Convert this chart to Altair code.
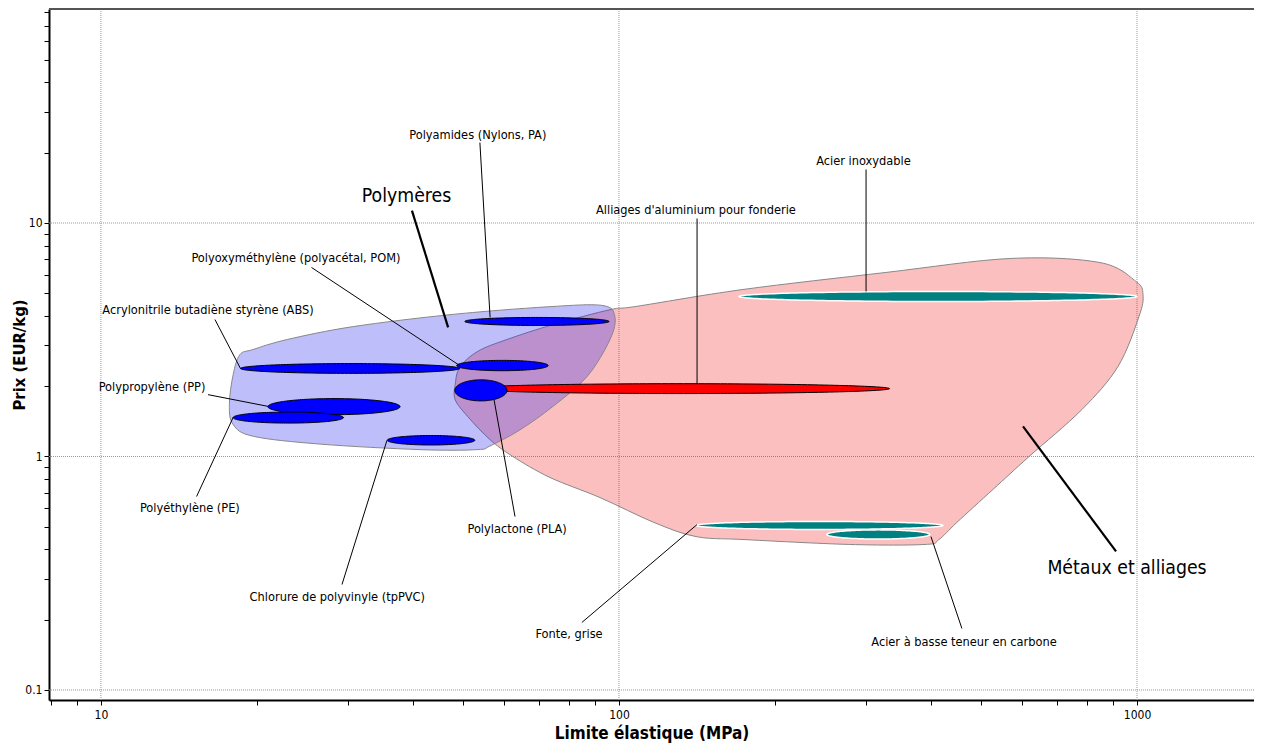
import altair as alt
import numpy as np
import pandas as pd

FONT = "DejaVu Sans Condensed"

# ---------------- data ----------------
# material bubbles: ranges of yield strength (MPa) and price (EUR/kg)
mat_names = ["00 PA", "01 ABS", "02 POM", "03 PP", "04 PE", "05 PVC",
             "06 Al", "07 PLA", "08 Inox", "09 Fonte", "10 Acier C"]
mat_group = ["poly", "poly", "poly", "poly", "poly", "poly",
             "alu", "pla", "acier", "acier", "acier"]
x_lo = [50.4, 18.6, 48.6, 21.0, 18.0, 35.7, 51.6, 48.2, 170.5, 140.8, 252.0]
x_hi = [95.7, 49.3, 73.0, 37.8, 29.4, 52.7, 333.0, 60.8, 1000.0, 422.0, 398.0]
y_lo = [3.64, 2.27, 2.33, 1.51, 1.39, 1.12, 1.86, 1.73, 4.61, 0.487, 0.443]
y_hi = [3.94, 2.50, 2.58, 1.77, 1.55, 1.23, 2.05, 2.13, 5.09, 0.527, 0.485]

# family envelopes (outline vertices)
poly_env_x = [18.55, 19.65, 22.9, 30.7, 47.8, 74.6, 93.1, 98.2, 96.1, 86.8, 74.6,
              64.4, 56.4, 53.2, 41.3, 26.5, 19.7, 18.0, 17.7, 18.0]
poly_env_y = [2.73, 2.87, 3.17, 3.60, 4.06, 4.39, 4.43, 3.98, 3.17, 2.20, 1.64,
              1.30, 1.11, 1.07, 1.07, 1.13, 1.22, 1.37, 1.67, 2.24]
metal_env_x = [48.3, 49.3, 53.4, 60.8, 74.6, 96.5, 107.8, 173.5, 327.6, 571.0, 848.0,
               995.0, 1027.0, 1009.0, 919.0, 783.0, 619.0, 527.0, 449.0, 414.6, 389.7,
               279.0, 173.5, 140.8, 116.8, 91.9, 73.6, 62.4, 56.4, 51.1, 48.3]
metal_env_y = [2.03, 2.41, 2.82, 3.17, 3.67, 4.26, 4.39, 5.19, 6.14, 7.05, 6.77,
               5.62, 4.94, 3.98, 2.43, 1.59, 1.0, 0.722, 0.522, 0.441, 0.42,
               0.42, 0.441, 0.454, 0.522, 0.667, 0.813, 1.0, 1.18, 1.48, 1.75]

# annotations
lab_text = ["Polyamides (Nylons, PA)", "Polyoxyméthylène (polyacétal, POM)",
            "Acrylonitrile butadiène styrène (ABS)", "Polypropylène (PP)",
            "Polyéthylène (PE)", "Chlorure de polyvinyle (tpPVC)", "Polylactone (PLA)",
            "Alliages d'aluminium pour fonderie", "Acier inoxydable", "Fonte, grise",
            "Acier à basse teneur en carbone"]
lab_x = [53.4, 23.8, 16.1, 12.55, 14.85, 28.6, 63.6, 140.8, 296.5, 80.1, 463.5]
lab_y = [23.9, 7.05, 4.22, 1.99, 0.599, 0.249, 0.491, 11.4, 18.5, 0.173, 0.1613]
lead_x1 = [53.9, 25.5, 16.6, 16.1, 15.3, 29.2, 63.0, 141.5, 299.9, 84.8, 459.2]
lead_y1 = [22.1, 6.45, 3.86, 1.84, 0.674, 0.283, 0.553, 10.45, 16.95, 0.1946, 0.1834]
lead_x2 = [56.4, 49.3, 18.6, 21.0, 18.0, 35.65, 57.4, 141.5, 299.9, 141.5, 400.2]
lead_y2 = [3.94, 2.45, 2.38, 1.64, 1.47, 1.17, 1.75, 2.05, 5.09, 0.511, 0.454]

big_text = ["Polymères", "Métaux et alliages"]
big_x = [38.9, 956.6]
big_y = [13.1, 0.3346]
big_x1 = [39.85, 911.0]
big_y1 = [11.3, 0.392]
big_x2 = [46.8, 602.5]
big_y2 = [3.57, 1.345]

x_grid = [10, 100, 1000]
y_grid = [0.1, 1, 10]
x_ticks = [8, 9, 10, 20, 30, 40, 50, 60, 70, 80, 90, 100, 200, 300, 400, 500, 600,
           700, 800, 900, 1000]
y_ticks = [0.1, 0.2, 0.3, 0.4, 0.5, 0.6, 0.7, 0.8, 0.9, 1, 2, 3, 4, 5, 6, 7, 8, 9,
           10, 20, 30, 40, 50, 60, 70, 80]

X_DOMAIN = [7.94, 1682]
Y_DOMAIN = [0.0906, 82.5]

# ---------------- build tables ----------------
theta = np.linspace(np.pi, 0, 90)
rows = []
for n, g, a0, a1, b0, b1 in zip(mat_names, mat_group, x_lo, x_hi, y_lo, y_hi):
    cx = (np.log10(a0) + np.log10(a1)) / 2
    ax = (np.log10(a1) - np.log10(a0)) / 2
    cy = (np.log10(b0) + np.log10(b1)) / 2
    ay = (np.log10(b1) - np.log10(b0)) / 2
    for t in theta:
        rows.append({"name": n, "group": g,
                     "x": 10 ** (cx + ax * np.cos(t)),
                     "yt": 10 ** (cy + ay * np.sin(t)),
                     "yb": 10 ** (cy - ay * np.sin(t))})
ell = pd.DataFrame(rows)

poly_env = pd.DataFrame({"x": poly_env_x, "y": poly_env_y, "i": range(len(poly_env_x))})
metal_env = pd.DataFrame({"x": metal_env_x, "y": metal_env_y, "i": range(len(metal_env_x))})
labels = pd.DataFrame({"t": lab_text, "x": lab_x, "y": lab_y})
leads = pd.DataFrame({"x": lead_x1, "y": lead_y1, "x2": lead_x2, "y2": lead_y2})
bigl = pd.DataFrame({"t": big_text, "x": big_x, "y": big_y})
bigleads = pd.DataFrame({"x": big_x1, "y": big_y1, "x2": big_x2, "y2": big_y2})

xs = alt.Scale(type="log", domain=X_DOMAIN, nice=False)
ys = alt.Scale(type="log", domain=Y_DOMAIN, nice=False)

x_axis = alt.Axis(values=x_ticks, grid=False, tickSize=5, tickColor="black",
                  domainColor="black", domainWidth=2,
                  labelExpr="datum.value == 10 ? '10' : datum.value == 100 ? '100' : datum.value == 1000 ? '1000' : ''",
                  labelFont=FONT, labelFontSize=12, labelColor="black", labelPadding=4,
                  titleFont=FONT, titleFontSize=17, titleFontWeight="bold", titleColor="black",
                  titlePadding=5)
y_axis = alt.Axis(values=y_ticks, grid=False, tickSize=5, tickColor="black",
                  domainColor="black", domainWidth=2,
                  labelExpr="datum.value == 0.1 ? '0.1' : datum.value == 1 ? '1' : datum.value == 10 ? '10' : ''",
                  labelFont=FONT, labelFontSize=12, labelColor="black", labelPadding=2,
                  titleFont=FONT, titleFontSize=16.5, titleFontWeight="bold", titleColor="black",
                  titleX=-30, titleBaseline="middle")


def X(f="x"):
    return alt.X(f"{f}:Q", scale=xs, axis=x_axis, title="Limite élastique (MPa)")


def Y(f="y"):
    return alt.Y(f"{f}:Q", scale=ys, axis=y_axis, title="Prix (EUR/kg)")


gx = alt.Chart(pd.DataFrame({"x": x_grid})).mark_rule(
    color="#999999", strokeDash=[1, 1], strokeWidth=1).encode(x=X("x"))
gy = alt.Chart(pd.DataFrame({"y": y_grid})).mark_rule(
    color="#999999", strokeDash=[1, 1], strokeWidth=1).encode(y=Y("y"))

metal = alt.Chart(metal_env).mark_line(
    fill="#f50000", fillOpacity=0.25, stroke="#888888", strokeWidth=1,
    interpolate="cardinal-closed").encode(x=X(), y=Y(), order="i:Q")
poly = alt.Chart(poly_env).mark_line(
    fill="#1414ed", fillOpacity=0.277, stroke="#888888", strokeWidth=1,
    interpolate="cardinal-closed").encode(x=X(), y=Y(), order="i:Q")


def ellipses(groups, fill, stroke, sw):
    d = ell[ell["group"].isin(groups)]
    return alt.Chart(d).mark_area(fill=fill, stroke=stroke, strokeWidth=sw).encode(
        x=X(), y=Y("yt"), y2="yb:Q", detail="name:N")


e_poly = ellipses(["poly"], "#0000ff", "black", 1)
e_alu = ellipses(["alu"], "#ff0000", "black", 1)
e_pla = ellipses(["pla"], "#0000ff", "black", 1)
e_steel = ellipses(["acier"], "#008080", "white", 1.5)

lead_thin = alt.Chart(leads).mark_rule(color="black", strokeWidth=1).encode(
    x=X(), y=Y(), x2="x2:Q", y2="y2:Q")
lead_thick = alt.Chart(bigleads).mark_rule(color="black", strokeWidth=2.2).encode(
    x=X(), y=Y(), x2="x2:Q", y2="y2:Q")
txt = alt.Chart(labels).mark_text(font=FONT, fontSize=12.7, color="black",
                                  align="center", baseline="middle").encode(
    x=X(), y=Y(), text="t:N")
bigtxt = alt.Chart(bigl).mark_text(font=FONT, fontSize=19.3, color="black",
                                   align="center", baseline="middle").encode(
    x=X(), y=Y(), text="t:N")

# top frame line (the right side of the frame lies outside the window in the reference)
top_border = alt.Chart(pd.DataFrame({"k": [0]})).mark_rule(
    color="#555555", strokeWidth=2).encode(
    x=alt.value(0), x2=alt.value(1205), y=alt.value(0))

chart = alt.layer(gx, gy, metal, poly, e_poly, e_alu, e_pla, e_steel,
                  lead_thin, lead_thick, txt, bigtxt, top_border).properties(
    width=1205, height=691,
    autosize=alt.AutoSizeParams(type="none"),
    padding={"left": 41, "top": 1, "right": 0, "bottom": 44},
    background="white",
).configure_view(strokeWidth=0)

chart.save("out.html", embed_options={"renderer": "svg", "actions": False})
